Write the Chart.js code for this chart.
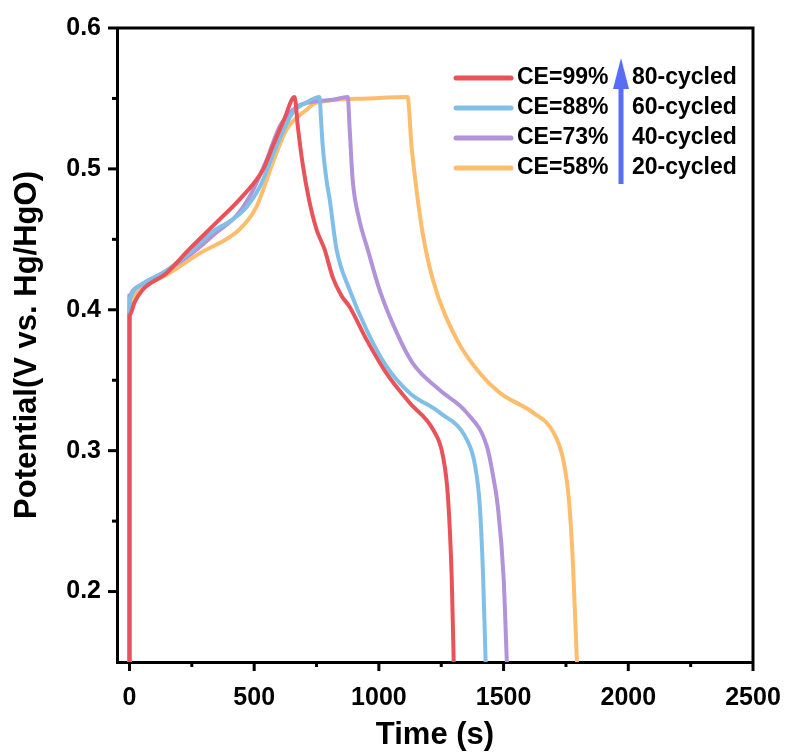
<!DOCTYPE html>
<html>
<head>
<meta charset="utf-8">
<script src="https://cdn.jsdelivr.net/npm/chart.js@4.4.1/dist/chart.umd.min.js"></script>
<style>
  body { margin: 0; background: #fff; }
  canvas { display: block; }
</style>
</head>
<body>
<canvas id="gcdChart" width="788" height="754"></canvas>
<script>
const ceLabels = ["CE=99%", "CE=88%", "CE=73%", "CE=58%"];
const cycleLabels = ["80-cycled", "60-cycled", "40-cycled", "20-cycled"];
const lineColors = ["#e8535a", "#80bfe8", "#b293d9", "#fdbd6c"];

// charge / discharge curves, time (s) and potential (V)
const ce99Time = [0, 0, 20, 52, 148, 240, 349, 450, 534, 574, 620, 662, 675, 694, 720, 750, 782, 815, 850, 883, 950, 1030, 1123, 1217, 1257, 1277, 1292, 1300];
const ce99Volt = [0.15, 0.396, 0.405, 0.414, 0.426, 0.443, 0.462, 0.48, 0.499, 0.516, 0.535, 0.551, 0.53, 0.504, 0.478, 0.457, 0.443, 0.423, 0.41, 0.402, 0.379, 0.355, 0.334, 0.315, 0.296, 0.267, 0.21, 0.15];

const ce88Time = [0, 0, 15, 48, 150, 250, 330, 413, 470, 522, 589, 655, 709, 762, 768, 775, 790, 803, 830, 883, 950, 1030, 1123, 1244, 1352, 1385, 1405, 1418, 1428];
const ce88Volt = [0.15, 0.408, 0.413, 0.418, 0.428, 0.442, 0.455, 0.464, 0.473, 0.487, 0.516, 0.54, 0.547, 0.551, 0.535, 0.516, 0.492, 0.478, 0.443, 0.414, 0.386, 0.36, 0.341, 0.327, 0.308, 0.29, 0.26, 0.21, 0.15];

const ce73Time = [0, 0, 15, 50, 150, 250, 350, 430, 481, 549, 602, 670, 750, 815, 875, 883, 895, 920, 955, 1003, 1071, 1136, 1244, 1352, 1433, 1460, 1477, 1500, 1513];
const ce73Volt = [0.15, 0.41, 0.414, 0.418, 0.428, 0.44, 0.455, 0.467, 0.48, 0.506, 0.53, 0.544, 0.548, 0.549, 0.551, 0.528, 0.492, 0.465, 0.443, 0.414, 0.384, 0.362, 0.343, 0.327, 0.303, 0.28, 0.26, 0.21, 0.15];

const ce58Time = [0, 0, 15, 50, 150, 281, 441, 509, 574, 630, 710, 750, 950, 1115, 1131, 1151, 1175, 1217, 1312, 1405, 1485, 1618, 1700, 1740, 1762, 1778, 1794];
const ce58Volt = [0.15, 0.4, 0.408, 0.415, 0.425, 0.44, 0.457, 0.473, 0.504, 0.528, 0.542, 0.547, 0.55, 0.551, 0.516, 0.485, 0.455, 0.421, 0.379, 0.355, 0.341, 0.327, 0.313, 0.293, 0.265, 0.22, 0.15];

const xMajorTicks = [0, 500, 1000, 1500, 2000, 2500];
const xMinorTicks = [250, 750, 1250, 1750, 2250];
const yMajorTicks = [0.2, 0.3, 0.4, 0.5, 0.6];
const yMinorTicks = [0.25, 0.35, 0.45, 0.55];

const seriesTime = [ce99Time, ce88Time, ce73Time, ce58Time];
const seriesVolt = [ce99Volt, ce88Volt, ce73Volt, ce58Volt];

const datasets = ceLabels.map((label, i) => ({
  label: label,
  data: seriesTime[i].map((t, k) => ({ x: t, y: seriesVolt[i][k] })),
  borderColor: lineColors[i],
  backgroundColor: lineColors[i],
  borderWidth: 4,
  pointRadius: 0,
  showLine: true,
  cubicInterpolationMode: "monotone",
  fill: false
}));

const tickFont = { family: "Liberation Sans, Arial, sans-serif", size: 25, weight: "bold" };
const titleFont = { family: "Liberation Sans, Arial, sans-serif", size: 31, weight: "bold" };

// tick marks, frame, legend with arrow
const decorPlugin = {
  id: "decor",
  afterDraw(chart) {
    const ctx = chart.ctx;
    const area = chart.chartArea;
    const xs = chart.scales.x;
    const ys = chart.scales.y;
    ctx.save();
    ctx.strokeStyle = "#000";
    ctx.lineWidth = 3;
    ctx.beginPath();
    ctx.moveTo(area.left, area.top);
    ctx.lineTo(area.right, area.top);
    ctx.lineTo(area.right, area.bottom);
    ctx.stroke();

    xMajorTicks.forEach(v => {
      const px = xs.getPixelForValue(v);
      ctx.beginPath(); ctx.moveTo(px, area.bottom); ctx.lineTo(px, area.bottom + 9); ctx.stroke();
    });
    xMinorTicks.forEach(v => {
      const px = xs.getPixelForValue(v);
      ctx.beginPath(); ctx.moveTo(px, area.bottom); ctx.lineTo(px, area.bottom + 5); ctx.stroke();
    });
    yMajorTicks.forEach(v => {
      const py = ys.getPixelForValue(v);
      ctx.beginPath(); ctx.moveTo(area.left, py); ctx.lineTo(area.left - 9, py); ctx.stroke();
    });
    yMinorTicks.forEach(v => {
      const py = ys.getPixelForValue(v);
      ctx.beginPath(); ctx.moveTo(area.left, py); ctx.lineTo(area.left - 5, py); ctx.stroke();
    });

    // legend
    ctx.font = "bold 23px Liberation Sans, Arial, sans-serif";
    ctx.textBaseline = "middle";
    ctx.textAlign = "left";
    ceLabels.forEach((label, i) => {
      const y = 78 + i * 30;
      ctx.strokeStyle = lineColors[i];
      ctx.lineWidth = 5;
      ctx.lineCap = "round";
      ctx.beginPath(); ctx.moveTo(456, y); ctx.lineTo(511, y); ctx.stroke();
      ctx.fillStyle = "#000";
      ctx.fillText(label, 517, y);
      ctx.fillText(cycleLabels[i], 632, y);
    });

    ctx.fillStyle = "#5a6ef5";
    ctx.fillRect(618.5, 84, 5, 100);
    ctx.beginPath();
    ctx.moveTo(621, 58);
    ctx.lineTo(629, 89);
    ctx.lineTo(613, 89);
    ctx.closePath();
    ctx.fill();
    ctx.restore();
  }
};

const ctx = document.getElementById("gcdChart").getContext("2d");

new Chart(ctx, {
  type: "scatter",
  data: { datasets: datasets },
  options: {
    responsive: false,
    animation: false,
    layout: { padding: { top: 28, right: 35, left: 0, bottom: 0 } },
    plugins: {
      legend: { display: false },
      tooltip: { enabled: false }
    },
    scales: {
      x: {
        type: "linear",
        min: -50,
        max: 2500,
        afterBuildTicks: scale => { scale.ticks = xMajorTicks.map(v => ({ value: v })); },
        afterFit: scale => { scale.height = 92; scale.paddingLeft = 0; scale.paddingRight = 0; },
        grid: { display: false },
        border: { display: true, color: "#000", width: 3 },
        ticks: { color: "#000", font: tickFont, padding: 13, maxRotation: 0, callback: v => String(v) },
        title: { display: true, text: "Time (s)", color: "#000", font: titleFont, padding: { top: 0, bottom: 0 } }
      },
      y: {
        type: "linear",
        min: 0.15,
        max: 0.6,
        afterBuildTicks: scale => { scale.ticks = yMajorTicks.map(v => ({ value: v })); },
        afterFit: scale => { scale.width = 117; scale.paddingTop = 0; scale.paddingBottom = 0; },
        grid: { display: false },
        border: { display: true, color: "#000", width: 3 },
        ticks: { color: "#000", font: tickFont, padding: 8, callback: v => v.toFixed(1) },
        title: { display: true, text: "Potential(V vs. Hg/HgO)", color: "#000", font: titleFont, padding: { top: 9, bottom: 0 } }
      }
    }
  },
  plugins: [decorPlugin]
});
</script>
</body>
</html>
